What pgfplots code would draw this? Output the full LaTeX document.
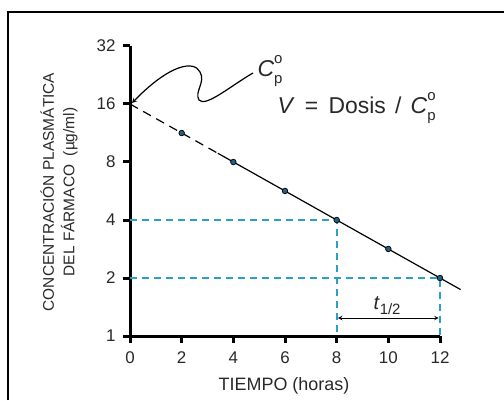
\documentclass[border=0pt]{standalone}
\usepackage{pgfplots}
\pgfplotsset{compat=1.18}
\usepackage{fontspec}
\setmainfont{Liberation Sans}
\definecolor{guia}{RGB}{42,160,200}
\definecolor{punto}{RGB}{35,95,130}
\definecolor{texto}{RGB}{40,40,40}
\begin{document}
\begin{tikzpicture}[x=1bp,y=1bp]
\useasboundingbox (0,0) rectangle (504,400);
\draw[line width=2.2bp] (8,0) -- (8,388) -- (504,388);
\begin{axis}[
  at={(130bp,64bp)}, anchor=south west,
  scale only axis, width=310bp, height=290bp,
  xmin=0, xmax=12, ymin=1, ymax=32,
  ymode=log,
  axis x line=bottom, axis y line=left,
  axis line style={line width=3bp, -},
  xtick={0,2,...,12},
  ytick={1,2,4,8,16,32}, yticklabels={1,2,4,8,16,32},
  tick align=outside, major tick length=7bp,
  every tick/.style={line width=3bp, black},
  minor tick num=0,
  tick label style={font=\fontsize{17}{17}\selectfont, text=texto},
  /pgf/number format/assume math mode=true,
  xticklabel style={yshift=-5bp},
  yticklabel style={xshift=-4bp},
  clip=false,
]
% lineas guia de la vida media
\addplot[guia, line width=2.2bp, dash pattern=on 7bp off 5bp] coordinates {(0,4) (8,4) (8,1)};
\addplot[guia, line width=2.2bp, dash pattern=on 7bp off 5bp] coordinates {(0,2) (12,2) (12,1)};
% recta de eliminacion
\addplot[black, line width=1.2bp, dash pattern=on 9bp off 6bp] coordinates {(0,16) (3.4,8.88)};
\addplot[black, line width=1.2bp] coordinates {(3.4,8.88) (12.8,1.741)};
% concentraciones medidas
\addplot[only marks, mark=*, mark size=2.8bp, mark options={fill=punto, draw=black, line width=0.7bp}]
  coordinates {(2,11.31) (4,8) (6,5.66) (8,4) (10,2.83) (12,2)};
\draw[<->, >=stealth, line width=1bp] (axis cs:8.05,1.24) -- (axis cs:11.95,1.24);
\node[font=\fontsize{20}{20}\selectfont, text=texto] at (axis cs:9.95,1.43) {\textit{t}\raisebox{-0.25em}{\fontsize{15}{15}\selectfont 1/2}};
\end{axis}
\draw[->, >=stealth, line width=1.2bp] (253,327) .. controls (232,315) and (205,292) .. (199,300)
  .. controls (194,308) and (206,318) .. (200,328)
  .. controls (194,340) and (170,336) .. (132,297);
\node[anchor=west, font=\fontsize{23}{23}\selectfont, text=texto] at (254,329) {\textit{C}\rlap{\raisebox{0.55em}{\fontsize{15}{15}\selectfont o}}\raisebox{-0.3em}{\fontsize{15}{15}\selectfont p}};
\node[anchor=west, font=\fontsize{23}{23}\selectfont, text=texto] at (274,292) {\textit{V}\hspace{0.45em}=\hspace{0.45em}Dosis\hspace{0.4em}/\hspace{0.4em}\textit{C}\rlap{\raisebox{0.55em}{\fontsize{15}{15}\selectfont o}}\raisebox{-0.3em}{\fontsize{15}{15}\selectfont p}};
\node[rotate=90, align=center, font=\fontsize{15.5}{20.5}\selectfont, text=texto] at (59,208) {CONCENTRACIÓN PLASMÁTICA\\DEL FÁRMACO\ \ (µg/ml)};
\node[font=\fontsize{18}{18}\selectfont, text=texto] at (284,14) {TIEMPO (horas)};
\end{tikzpicture}
\end{document}
